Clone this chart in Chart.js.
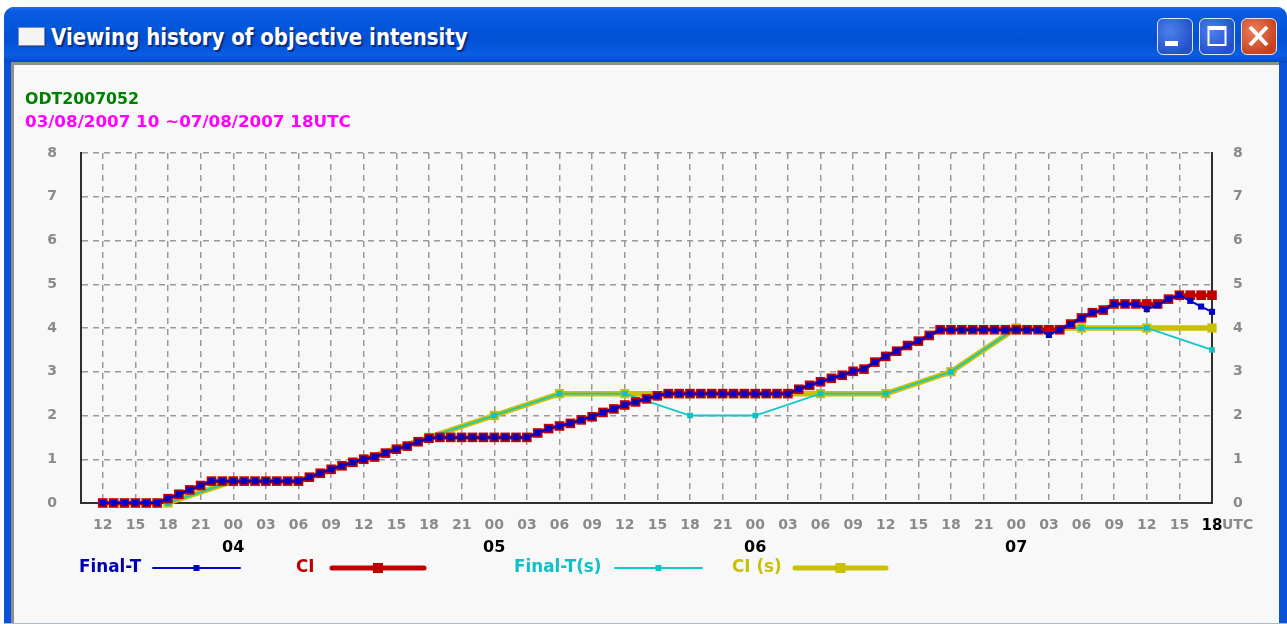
<!DOCTYPE html>
<html><head><meta charset="utf-8">
<script src="https://cdn.jsdelivr.net/npm/chart.js@4"></script>
<style>
html,body{margin:0;padding:0;background:#fff;overflow:hidden}
#win{position:absolute;left:4px;top:7px;width:1283px;height:617px;border-radius:10px 10px 0 0;background:#0a50d8;overflow:hidden}
#bar{position:absolute;left:0;top:0;right:0;height:56px;background:linear-gradient(#1e6cf0 0,#0a5ae0 8%,#0458dc 30%,#0350d4 60%,#0a5ee4 85%,#0546c4 100%)}
#title{position:absolute;left:47px;top:16px;font:bold 23.4px "DejaVu Sans",sans-serif;color:#fff;text-shadow:2px 2px 1px #0a2a80;white-space:nowrap;transform:scaleX(.844);transform-origin:0 0}
#icon{position:absolute;left:14px;top:20px;width:25px;height:17px;background:#f4f4f4;border:1px solid #6f8fc8;box-shadow:1px 1px 0 #20408a}
.btn{position:absolute;top:11px;width:36px;height:37px;border:1.5px solid #dfe8fa;border-radius:6px;box-sizing:border-box;background:radial-gradient(circle at 35% 35%,#4c80ec,#2450c8 75%)}
#client{position:absolute;left:7px;top:55px;width:1268px;height:561px;background:#f8f8f8;border-top:3px solid #8f8f88;border-left:3px solid #8f8f88;box-sizing:border-box}
#line{position:absolute;left:0;right:0;top:616px;height:1px;background:#9dbcf2}
.head{position:absolute;left:25px;font:bold 16px "DejaVu Sans",sans-serif;white-space:nowrap;transform-origin:0 0}
canvas{position:absolute;left:0;top:0}
</style></head><body>
<div id="win">
  <div id="bar"></div>
  <div id="icon"></div>
  <div id="title">Viewing history of objective intensity</div>
  <div class="btn" style="left:1153px"><svg width="33" height="34"><rect x="7" y="22" width="13" height="5" fill="#fff"/></svg></div>
  <div class="btn" style="left:1195px"><svg width="33" height="34"><rect x="8.5" y="8" width="17" height="18" fill="none" stroke="#fff" stroke-width="2"/><rect x="8" y="7" width="18" height="4" fill="#fff"/></svg></div>
  <div class="btn" style="left:1237px;background:radial-gradient(circle at 35% 35%,#e8805c,#c8401c 75%)"><svg width="33" height="34"><path d="M8 8L25 26M25 8L8 26" stroke="#fff" stroke-width="4"/></svg></div>
  <div id="client"></div>
  <div id="line"></div>
</div>
<canvas id="c" width="1287" height="624"></canvas>
<div class="head" style="top:89px;color:#008000;transform:scaleX(.985)">ODT2007052</div>
<div class="head" style="top:112px;color:#ff00ff;transform:scaleX(1.045)">03/08/2007 10 ~07/08/2007 18UTC</div>
<script>
// hours counted from 00UTC on the 3rd
const tickHours = [12,15,18,21,24,27,30,33,36,39,42,45,48,51,54,57,60,63,66,69,72,75,78,81,84,87,90,93,96,99,102,105,108,111,114];
const tickLabels = ['12','15','18','21','00','03','06','09','12','15','18','21','00','03','06','09','12','15','18','21','00','03','06','09','12','15','18','21','00','03','06','09','12','15','18'];
const dayHours = [24,48,72,96];
const dayLabels = ['04','05','06','07'];
const yValues = [0,1,2,3,4,5,6,7,8];
const seriesNames = ['Final-T','CI','Final-T(s)','CI (s)'];

// hourly, first value at hour 12
const finalT = [0,0,0,0,0,0,.1,.2,.3,.4,.5,.5,.5,.5,.5,.5,.5,.5,.5,.59,.68,.77,.85,.93,1,1.05,1.14,1.23,1.3,1.4,1.48,1.5,1.5,1.5,1.5,1.5,1.5,1.5,1.5,1.5,1.6,1.7,1.76,1.82,1.9,1.97,2.07,2.15,2.24,2.31,2.38,2.45,2.5,2.5,2.5,2.5,2.5,2.5,2.5,2.5,2.5,2.5,2.5,2.5,2.6,2.69,2.77,2.85,2.92,3.01,3.06,3.22,3.35,3.47,3.6,3.7,3.83,3.96,3.96,3.96,3.96,3.96,3.96,3.96,3.96,3.96,3.96,3.84,3.96,4.09,4.23,4.35,4.41,4.55,4.55,4.55,4.43,4.52,4.66,4.75,4.62,4.49,4.37];
const ci = [0,0,0,0,0,0,.1,.2,.3,.4,.5,.5,.5,.5,.5,.5,.5,.5,.5,.59,.68,.77,.85,.93,1,1.05,1.14,1.23,1.3,1.4,1.48,1.5,1.5,1.5,1.5,1.5,1.5,1.5,1.5,1.5,1.6,1.7,1.76,1.82,1.9,1.97,2.07,2.15,2.24,2.31,2.38,2.45,2.5,2.5,2.5,2.5,2.5,2.5,2.5,2.5,2.5,2.5,2.5,2.5,2.6,2.69,2.77,2.85,2.92,3.01,3.06,3.22,3.35,3.47,3.6,3.7,3.83,3.96,3.96,3.96,3.96,3.96,3.96,3.96,3.96,3.96,3.96,3.96,3.96,4.09,4.23,4.35,4.41,4.55,4.55,4.55,4.55,4.55,4.66,4.75,4.75,4.75,4.75];

// six-hourly
const sixHours = [18,24,30,36,42,48,54,60,66,72,78,84,90,96,102,108,114];
const finalTs = [0,.5,.5,1,1.5,2,2.5,2.5,2,2,2.5,2.5,3,4,4,4,3.5];
const cis = [0,.5,.5,1,1.5,2,2.5,2.5,2.5,2.5,2.5,2.5,3,4,4,4,4];

const tickFont = {family:'"DejaVu Sans",sans-serif',weight:'bold',size:14};
const dayFont = {family:'"DejaVu Sans",sans-serif',weight:'bold',size:16};
const GREY = '#8a8a8a', AXIS = '#2e2e2e', GRID = '#999999', DASH = [6,5];

const legendRow = {
  id:'legendRow',
  afterDraw(chart){
    const {ctx} = chart;
    const slots = [[79,153,240,2,6],[296,332,424,5,10],[514,615,702,2,6],[732,795,886,5,10]];
    ctx.save();
    ctx.textBaseline='middle';
    ctx.font='bold 16.8px "DejaVu Sans",sans-serif';
    chart.data.datasets.forEach((d,i)=>{
      const [tx,x0,x1,lw,ms]=slots[i], y=568;
      ctx.fillStyle=d.labelColor;
      ctx.textAlign='left';
      ctx.fillText(d.label,tx,y);
      ctx.strokeStyle=d.borderColor; ctx.lineWidth=lw; ctx.lineCap='round';
      ctx.beginPath(); ctx.moveTo(x0,y); ctx.lineTo(x1,y); ctx.stroke();
      ctx.fillStyle=d.borderColor;
      ctx.fillRect((x0+x1)/2-ms/2,y-ms/2,ms,ms);
    });
    // unit beside the last tick
    const sx=chart.scales.x;
    ctx.font='bold 14px "DejaVu Sans",sans-serif';
    ctx.fillStyle=GREY; ctx.textAlign='left';
    ctx.fillText('UTC',sx.right+10,525);
    ctx.restore();
  }
};

const hourly = a => a.map((y,i)=>({x:12+i,y}));
const six = a => a.map((y,i)=>({x:sixHours[i],y}));
const common = {pointStyle:'rect',tension:0,borderJoinStyle:'miter',clip:false};

new Chart(document.getElementById('c'),{
  type:'line',
  data:{datasets:[
    {...common,label:seriesNames[0],data:hourly(finalT),borderColor:'#0000c8',backgroundColor:'#0000c8',labelColor:'#0000b0',borderWidth:2,pointRadius:4.3,pointBorderWidth:0},
    {...common,label:seriesNames[1],data:hourly(ci),borderColor:'#c00000',backgroundColor:'#c00000',labelColor:'#c00000',borderWidth:4,pointRadius:6.8,pointBorderWidth:0},
    {...common,label:seriesNames[2],data:six(finalTs),borderColor:'#10c8c8',backgroundColor:'#10c0c0',labelColor:'#10c0c8',borderWidth:1.8,pointRadius:4,pointBorderWidth:0},
    {...common,label:seriesNames[3],data:six(cis),borderColor:'#c8c000',backgroundColor:'#c8c000',labelColor:'#c8c000',borderWidth:5.5,pointRadius:6.5,pointBorderWidth:0}
  ]},
  options:{
    responsive:false,animation:false,
    layout:{padding:{top:153,left:0,right:0,bottom:0}},
    plugins:{legend:{display:false},title:{display:false},tooltip:{enabled:false}},
    scales:{
      x:{type:'linear',min:10,max:114,position:'bottom',
        afterBuildTicks:s=>{s.ticks=tickHours.map(v=>({value:v}));},
        afterFit:s=>{s.height=33;},
        border:{display:true,color:AXIS,width:2,dash:DASH},
        grid:{color:GRID,lineWidth:1.5,drawTicks:false},
        ticks:{autoSkip:false,maxRotation:0,padding:14,
          font:c=>c.index===tickHours.length-1?{...tickFont,size:15}:tickFont,
          color:c=>c.index===tickHours.length-1?'#000':GREY,
          callback:(v)=>tickLabels[tickHours.indexOf(v)]}},
      x2:{type:'linear',min:10,max:114,position:'bottom',
        afterBuildTicks:s=>{s.ticks=dayHours.map(v=>({value:v}));},
        afterFit:s=>{s.height=88;},
        border:{display:false},grid:{display:false,drawTicks:false},
        ticks:{autoSkip:false,maxRotation:0,padding:2,font:dayFont,color:'#000',
          callback:(v)=>dayLabels[dayHours.indexOf(v)]}},
      y:{type:'linear',min:0,max:8,position:'left',
        afterBuildTicks:s=>{s.ticks=yValues.map(v=>({value:v}));},
        afterFit:s=>{s.width=81;},
        border:{display:true,color:AXIS,width:2,dash:DASH},
        grid:{color:GRID,lineWidth:1.5,drawTicks:false},
        ticks:{padding:24,font:tickFont,color:GREY}},
      y2:{type:'linear',min:0,max:8,position:'right',
        afterBuildTicks:s=>{s.ticks=yValues.map(v=>({value:v}));},
        afterFit:s=>{s.width=75;},
        border:{display:true,color:AXIS,width:2},
        grid:{display:false,drawTicks:false},
        ticks:{padding:21,font:tickFont,color:GREY}}
    }
  },
  plugins:[legendRow]
});
</script>
</body></html>
